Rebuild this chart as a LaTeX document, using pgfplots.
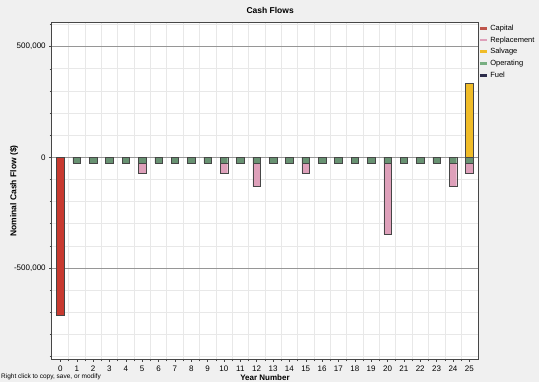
\documentclass[border=0pt]{standalone}
\usepackage{pgfplots}
\usepackage{pgfplotstable}
\pgfplotsset{compat=1.18}
\usepackage{fontspec}
\setmainfont{Liberation Sans}
\definecolor{bgcol}{RGB}{240,240,240}
\definecolor{capcol}{RGB}{200,58,48}
\definecolor{repcol}{RGB}{222,160,186}
\definecolor{salcol}{RGB}{240,188,40}
\definecolor{opcol}{RGB}{104,146,114}
\definecolor{oplegcol}{RGB}{120,175,130}
\definecolor{caplegcol}{RGB}{190,85,75}
\definecolor{fuelcol}{RGB}{45,45,75}
\definecolor{framecol}{RGB}{70,70,70}
\definecolor{gridmaj}{RGB}{150,150,150}
\definecolor{gridmin}{RGB}{232,232,232}

\pgfplotstableread{
year capital operating replacement salvage
0  -712000 0 0 0
1  0 -25000 0 0
2  0 -25000 0 0
3  0 -25000 0 0
4  0 -25000 0 0
5  0 -25000 -47000 0
6  0 -25000 0 0
7  0 -25000 0 0
8  0 -25000 0 0
9  0 -25000 0 0
10 0 -25000 -47000 0
11 0 -25000 0 0
12 0 -25000 -108000 0
13 0 -25000 0 0
14 0 -25000 0 0
15 0 -25000 -47000 0
16 0 -25000 0 0
17 0 -25000 0 0
18 0 -25000 0 0
19 0 -25000 0 0
20 0 -25000 -323000 0
21 0 -25000 0 0
22 0 -25000 0 0
23 0 -25000 0 0
24 0 -25000 -108000 0
25 0 -25000 -47000 335000
}\datatable

\pgfplotsset{
  common/.style={scale only axis, width=426.6pt, height=336.6pt,
    at={(51.7pt,22.7pt)}, anchor=south west,
    xmin=-0.53, xmax=25.55, ymin=-913000, ymax=608000},
  legline/.style={legend image code/.code={\draw[line width=2.8pt,#1] (0pt,0pt) -- (7.5pt,0pt);}}
}

\begin{document}
\begin{tikzpicture}
\fill[bgcol] (0,0) rectangle (539pt,382pt);
\useasboundingbox (0,0) rectangle (539pt,382pt);
\begin{axis}[common, ybar stacked, bar width=0.46,
  axis background/.style={fill=white},
  xtick={0,...,25},
  minor xtick={0.5,1.5,...,24.5},
  ytick={-500000,0,500000},
  yticklabels={{-500,000},{0},{500,000}},
  minor ytick={-900000,-800000,...,600000},
  scaled y ticks=false,
  /pgf/number format/assume math mode=true,
  xminorgrids=true, yminorgrids=true, ymajorgrids=true,
  major grid style={gridmaj, line width=0.6pt},
  minor grid style={gridmin, line width=0.5pt},
  tick align=outside, tick pos=left,
  major tick length=2.5pt, minor tick length=2pt,
  every tick/.style={framecol},
  axis line style={framecol, line width=0.8pt},
  tick label style={font=\fontsize{8}{9.5}\selectfont},
  xticklabel style={yshift=-0.5pt},
  title={Cash Flows},
  title style={font=\bfseries\fontsize{8.5}{10}\selectfont, at={(axis description cs:0.512,1)}, anchor=base, yshift=3pt},
  xlabel={Year Number},
  xlabel style={font=\bfseries\fontsize{8}{10}\selectfont, at={(axis description cs:0.5,-0.0556)}, anchor=center},
  ylabel={Nominal Cash Flow (\$)},
  ylabel style={font=\bfseries\fontsize{8.5}{10}\selectfont, at={(axis description cs:-0.088,0.5)}, anchor=center, rotate=0},
  legend style={at={(1,1)}, anchor=north west, draw=none, fill=none,
    font=\fontsize{7.5}{9}\selectfont, inner sep=0pt, row sep=1.3pt,
    nodes={inner sep=1.5pt, text height=6pt, text depth=1.5pt}},
  legend cell align=left,
]
\addplot[fill=capcol, draw=framecol, forget plot] table[x=year, y=capital]{\datatable};
\addplot[fill=opcol, draw=framecol, forget plot] table[x=year, y=operating]{\datatable};
\addplot[fill=repcol, draw=framecol, forget plot] table[x=year, y=replacement]{\datatable};
\addlegendimage{legline=caplegcol}\addlegendentry{Capital}
\addlegendimage{legline=repcol}\addlegendentry{Replacement}
\addlegendimage{legline=salcol}\addlegendentry{Salvage}
\addlegendimage{legline=oplegcol}\addlegendentry{Operating}
\addlegendimage{legline=fuelcol}\addlegendentry{Fuel}
\end{axis}
\begin{axis}[common, hide axis, ybar, bar width=0.46]
\addplot[fill=salcol, draw=framecol] table[x=year, y=salvage]{\datatable};
\end{axis}
\node[anchor=south west, inner sep=0pt, font=\fontsize{6.5}{8}\selectfont] at (1pt,1.5pt) {Right click to copy, save, or modify};
\end{tikzpicture}
\end{document}
